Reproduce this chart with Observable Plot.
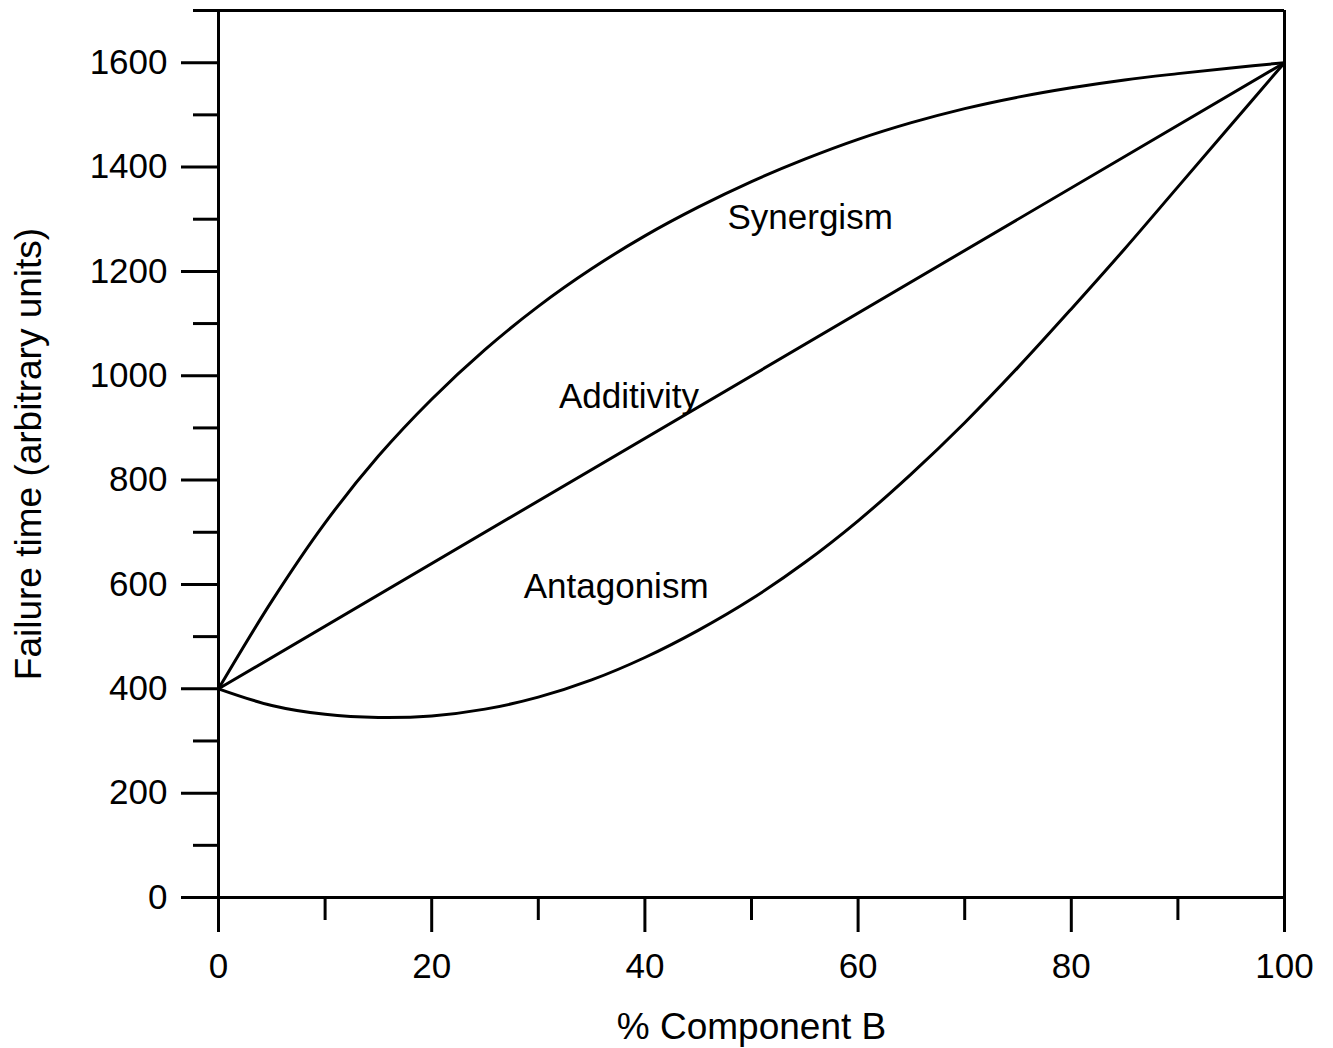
<!DOCTYPE html>
<html>
<head>
<meta charset="utf-8">
<script src="https://cdn.jsdelivr.net/npm/d3@7"></script>
<script src="https://cdn.jsdelivr.net/npm/@observablehq/plot@0.6"></script>
<style>
  html, body { margin: 0; padding: 0; background: #fff; }
  #chart svg { display: block; }
</style>
</head>
<body>
<div id="chart"></div>
<script>
// Data
const componentB = [0, 5, 10, 15, 20, 25, 30, 35, 40, 45, 50, 55, 60, 65, 70, 75, 80, 85, 90, 95, 100];
const synergism  = [400, 568, 718, 846, 955, 1050, 1133, 1205, 1268, 1323, 1372, 1415, 1453, 1485, 1512, 1534, 1552, 1567, 1579, 1590, 1600];
const antagonism = [400, 368, 351, 345, 348, 361, 384, 417, 460, 512, 572, 642, 722, 812, 910, 1016, 1128, 1243, 1362, 1481, 1600];
const additivityX = [0, 100];
const additivityY = [400, 1600];

const yMajorTicks = [0, 200, 400, 600, 800, 1000, 1200, 1400, 1600];
const yMinorTicks = [100, 300, 500, 700, 900, 1100, 1300, 1500, 1700];
const xMajorTicks = [0, 20, 40, 60, 80, 100];
const xMinorTicks = [10, 30, 50, 70, 90];

const curveLabels = ["Synergism", "Additivity", "Antagonism"];
const curveLabelX = [55.5, 38.5, 37.3];
const curveLabelY = [1303, 960, 596];

const xTitle = "% Component B";
const yTitle = "Failure time (arbitrary units)";

const syn = componentB.map((x, i) => ({x, y: synergism[i]}));
const ant = componentB.map((x, i) => ({x, y: antagonism[i]}));
const add = additivityX.map((x, i) => ({x, y: additivityY[i]}));
const labels = curveLabels.map((t, i) => ({t, x: curveLabelX[i], y: curveLabelY[i]}));

const font = "'Liberation Sans', Arial, Helvetica, sans-serif";
const fmt = d => `${d}`;

const chart = Plot.plot({
  width: 1333,
  height: 1048,
  marginLeft: 218,
  marginRight: 49,
  marginTop: 10,
  marginBottom: 151,
  x: {domain: [0, 100]},
  y: {domain: [0, 1700]},
  style: {fontFamily: font, fontSize: "35px", background: "#fff", color: "#000", overflow: "visible"},
  marks: [
    Plot.axisY(yMajorTicks, {tickSize: 37, tickPadding: 14, strokeWidth: 3, fontSize: 35, tickFormat: fmt, label: null}),
    Plot.axisY(yMinorTicks, {tickSize: 25, text: null, strokeWidth: 3, label: null}),
    Plot.axisX(xMajorTicks, {tickSize: 35, tickPadding: 21, strokeWidth: 3, fontSize: 35, tickFormat: fmt, label: null}),
    Plot.axisX(xMinorTicks, {tickSize: 23, text: null, strokeWidth: 3, label: null}),
    Plot.ruleX([0, 100], {stroke: "#000", strokeWidth: 3}),
    Plot.ruleY([0, 1700], {stroke: "#000", strokeWidth: 3}),
    Plot.line(add, {x: "x", y: "y", stroke: "#000", strokeWidth: 3}),
    Plot.line(syn, {x: "x", y: "y", stroke: "#000", strokeWidth: 3, curve: "catmull-rom"}),
    Plot.line(ant, {x: "x", y: "y", stroke: "#000", strokeWidth: 3, curve: "catmull-rom"}),
    Plot.text(labels, {x: "x", y: "y", text: "t", fontSize: 35, fill: "#000"}),
    Plot.text([xTitle], {frameAnchor: "bottom", dy: 130, fontSize: 37, fill: "#000", lineAnchor: "middle", textAnchor: "middle"}),
    Plot.text([yTitle], {frameAnchor: "left", dx: -189, rotate: -90, fontSize: 37, fill: "#000", lineAnchor: "middle", textAnchor: "middle"})
  ]
});

document.getElementById("chart").appendChild(chart);
</script>
</body>
</html>
